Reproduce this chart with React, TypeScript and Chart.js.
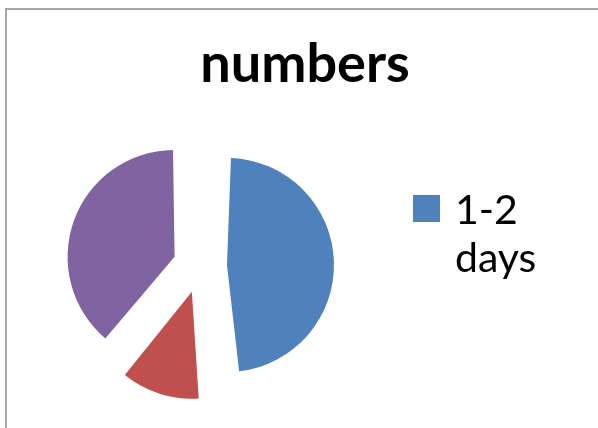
import React, { useEffect, useRef } from 'react';
import { Chart, registerables, layouts } from 'chart.js';

Chart.register(...registerables);

const categories = ['1-2 days', '3-4 days', '5+ days'];
const values = [20, 5, 16];
const colors = ['#4F81BD', '#C0504D', '#8064A2'];
const titleText = 'numbers';
const legendLines = ['1-2', 'days'];

const CANVAS_W = 591;
const CANVAS_H = 418;
const EXPLODE = 27;
const RADIUS = 107;
const LEGEND_W = 210;

export default function App() {
  const ref = useRef<HTMLCanvasElement | null>(null);

  useEffect(() => {
    if (!ref.current) return;

    const sideLegend = {
      id: 'sideLegend',
      start(chart: any) {
        const box: any = {
          position: 'right',
          weight: 0,
          fullSize: false,
          options: {},
          left: 0,
          top: 0,
          right: 0,
          bottom: 0,
          width: 0,
          height: 0,
          isHorizontal() {
            return false;
          },
          update(_maxWidth: number, maxHeight: number) {
            this.width = LEGEND_W;
            this.height = maxHeight;
          },
          draw() {
            const ctx = chart.ctx as CanvasRenderingContext2D;
            const ds = chart.data.datasets[0];
            ctx.save();
            ctx.fillStyle = ds.backgroundColor[0];
            ctx.fillRect(this.left + 25, this.top + 91, 27, 27);
            ctx.fillStyle = '#000000';
            ctx.font = '41px Lato';
            ctx.textAlign = 'left';
            ctx.textBaseline = 'alphabetic';
            legendLines.forEach((line, i) => {
              ctx.fillText(line, this.left + 67, this.top + 120 + i * 48);
            });
            ctx.restore();
          },
        };
        layouts.addBox(chart, box);
      },
      // Chart.js grows an exploded arc's radius by offset/4 * (1 - sin(circumference));
      // undo that so every exploded slice keeps the same radius.
      afterDatasetsUpdate(chart: any) {
        const meta = chart.getDatasetMeta(0);
        meta.data.forEach((arc: any) => {
          const fix = 1 - Math.sin(Math.min(Math.PI, arc.circumference || 0));
          arc.outerRadius = RADIUS - EXPLODE * fix;
        });
      },
    };

    const chart = new Chart(ref.current, {
      type: 'pie',
      data: {
        labels: categories,
        datasets: [
          {
            data: values,
            backgroundColor: colors,
            borderWidth: 0,
            radius: RADIUS,
            offset: EXPLODE * 4,
          } as any,
        ],
      },
      options: {
        responsive: false,
        animation: false,
        events: [],
        layout: { padding: { left: 5, right: 0, top: 0, bottom: 0 } },
        plugins: {
          legend: { display: false },
          tooltip: { enabled: false },
          title: {
            display: true,
            text: titleText,
            color: '#000000',
            font: { family: 'Lato', size: 54, weight: 'bold', lineHeight: 1.2 },
            padding: { top: 22.5, bottom: 6.7 },
          },
        },
      },
      plugins: [sideLegend as any],
    });

    return () => {
      chart.destroy();
    };
  }, []);

  return (
    <div
      style={{
        position: 'absolute',
        left: 5,
        top: 8,
        width: 593,
        height: 420,
        boxSizing: 'border-box',
        borderLeft: '2px solid #a6a6a6',
        borderTop: '2px solid #a6a6a6',
        background: '#ffffff',
      }}
    >
      <canvas ref={ref} width={CANVAS_W} height={CANVAS_H} style={{ display: 'block' }} />
    </div>
  );
}
